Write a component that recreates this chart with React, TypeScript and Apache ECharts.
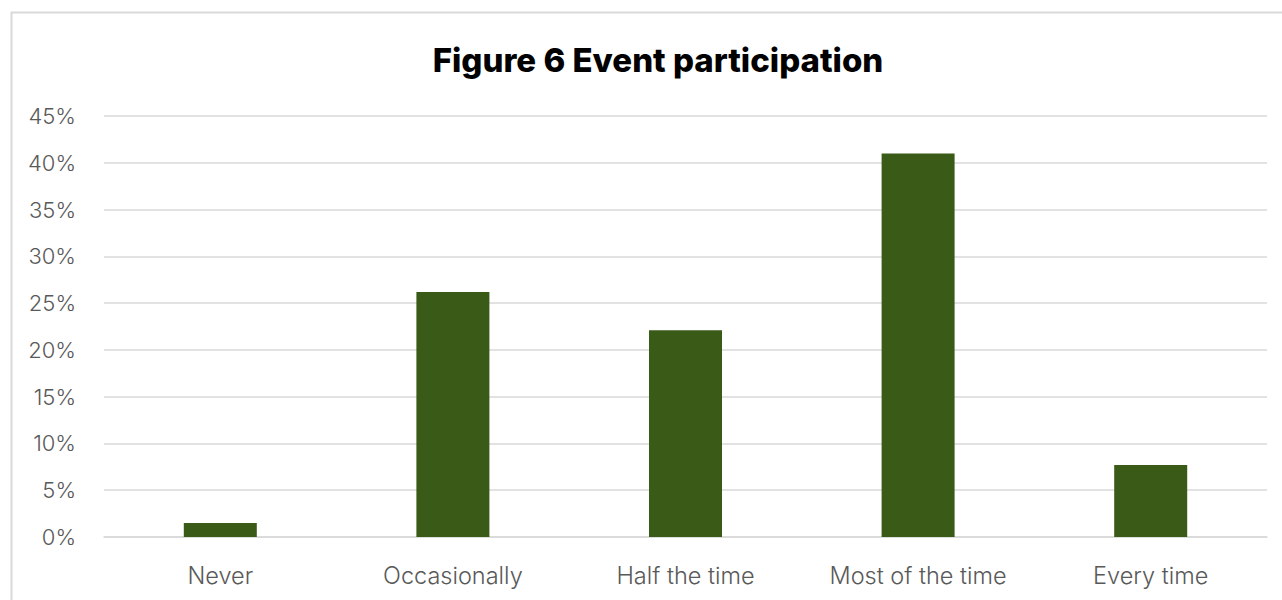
import React, { useEffect, useRef } from "react";
import * as echarts from "echarts";

const categories = ["Never", "Occasionally", "Half the time", "Most of the time", "Every time"];
const values = [1.5, 26.2, 22.1, 41.0, 7.7];
const titleText = "Figure 6 Event participation";

export default function App() {
  const ref = useRef<HTMLDivElement>(null);
  useEffect(() => {
    if (!ref.current) return;
    const chart = echarts.init(ref.current, undefined, { renderer: "svg" });
    chart.setOption({
      animation: false,
      backgroundColor: "#ffffff",
      title: {
        text: titleText,
        left: 653,
        textAlign: "center",
        top: 38,
        textStyle: { fontFamily: "Inter", fontWeight: 800, fontSize: 33, color: "#000000" },
      },
      graphic: [
        {
          type: "rect",
          shape: { x: 11.5, y: 12.5, width: 1300, height: 620 },
          style: { fill: "none", stroke: "#d9d9d9", lineWidth: 2 },
          silent: true,
        },
      ],
      grid: { left: 104, right: 15, top: 116, bottom: 63 },
      xAxis: {
        type: "category",
        data: categories,
        axisLine: { show: true, lineStyle: { color: "#d9d9d9", width: 1.5 } },
        axisTick: { show: false },
        axisLabel: { color: "#595959", fontSize: 23.5, fontWeight: 300, fontFamily: "Inter", margin: 26 },
      },
      yAxis: {
        type: "value",
        min: 0,
        max: 45,
        interval: 5,
        axisLine: { show: false },
        axisTick: { show: false },
        splitLine: { lineStyle: { color: "#d9d9d9", width: 1.5 } },
        axisLabel: { color: "#595959", fontSize: 22, fontWeight: 300, fontFamily: "Inter", margin: 28, formatter: "{value}%" },
      },
      series: [
        {
          type: "bar",
          data: values,
          barWidth: 73,
          itemStyle: { color: "#3a5a18" },
        },
      ],
    });
    return () => chart.dispose();
  }, []);
  return <div ref={ref} style={{ position: "fixed", left: 0, top: 0, width: 1282, height: 600 }} />;
}
